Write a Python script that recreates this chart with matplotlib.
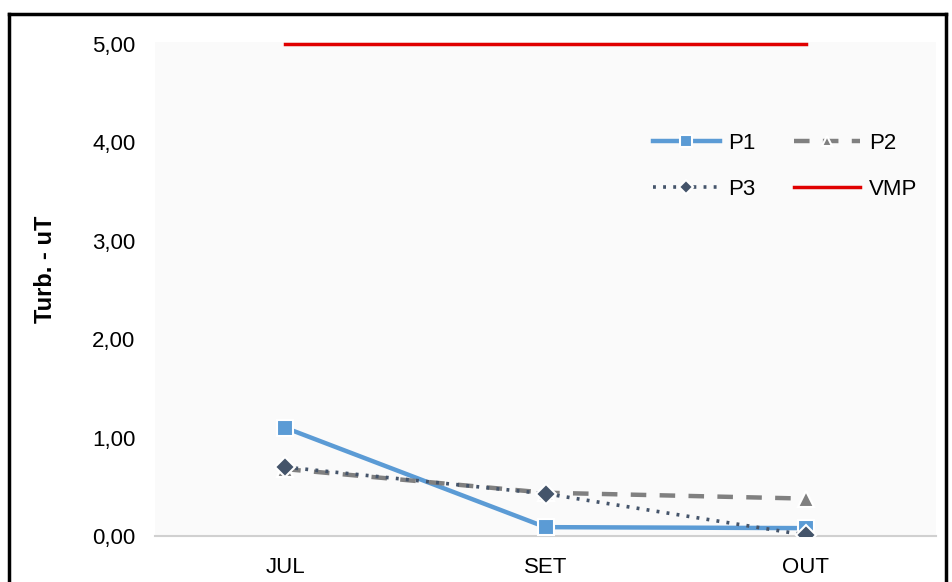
import matplotlib.pyplot as plt
from matplotlib.lines import Line2D

plt.rcParams['font.family'] = ['Liberation Sans', 'DejaVu Sans']

# data
months = ['JUL', 'SET', 'OUT']
p1 = [1.10, 0.09, 0.08]
p2 = [0.68, 0.44, 0.38]
p3 = [0.70, 0.43, 0.01]
vmp = [5.00, 5.00, 5.00]

fig = plt.figure(figsize=(9.52, 5.82), dpi=100)
ax = fig.add_axes([155/952, 1 - 536/582, (936 - 155)/952, (536 - 42)/582])
ax.set_facecolor('#fafafa')

x = range(len(months))
l1, = ax.plot(x, p1, color='#5b9bd5', lw=3.2, marker='s', ms=12, mfc='#5b9bd5',
              mec='white', mew=1.5, label='P1', zorder=3)
l2, = ax.plot(x, p2, color='#808080', lw=3.2, ls=(0, (3.5, 3)), marker='^', ms=11,
              mfc='#808080', mec='white', mew=1.5, label='P2', zorder=4)
l3, = ax.plot(x, p3, color='#44546a', lw=2.6, ls=(0, (0.8, 2)), marker='D', ms=10,
              mfc='#44546a', mec='white', mew=1.5, label='P3', zorder=5)
l4, = ax.plot(x, vmp, color='#e00000', lw=2.5, label='VMP', zorder=2)

ax.set_xlim(-0.5, 2.5)
ax.set_ylim(0, 5.02)
ax.set_xticks(list(x))
ax.set_xticklabels(months, fontsize=16)
ax.set_yticks([0, 1, 2, 3, 4, 5])
ax.set_yticklabels(['0,00', '1,00', '2,00', '3,00', '4,00', '5,00'], fontsize=16)
ax.tick_params(length=0)
ax.tick_params(axis='y', pad=14)
ax.tick_params(axis='x', pad=15)
for side in ['top', 'right', 'left']:
    ax.spines[side].set_visible(False)
ax.spines['bottom'].set_color('#d0d0d0')
ax.spines['bottom'].set_linewidth(1.5)

ax.set_ylabel('Turb. - uT', fontsize=17, fontweight='bold')
ax.yaxis.set_label_coords(-0.126, 0.54)

# row-wise order: P1 P2 / P3 VMP
ax.legend([l1, l3, l2, l4], ['P1', 'P3', 'P2', 'VMP'], ncol=2, loc='upper left',
          bbox_to_anchor=(0.612, 0.856), frameon=False, fontsize=16,
          handlelength=3.0, columnspacing=1.7, labelspacing=1.1,
          handletextpad=0.4, markerscale=0.7)

# outer frame (left, top, right)
fig.add_artist(Line2D([9/952, 9/952], [0, 1 - 14/582], color='black', lw=2.5))
fig.add_artist(Line2D([9/952, 946/952], [1 - 14/582, 1 - 14/582], color='black', lw=2.5))
fig.add_artist(Line2D([946/952, 946/952], [0, 1 - 14/582], color='black', lw=2.5))

fig.savefig('out.png', dpi=100)
